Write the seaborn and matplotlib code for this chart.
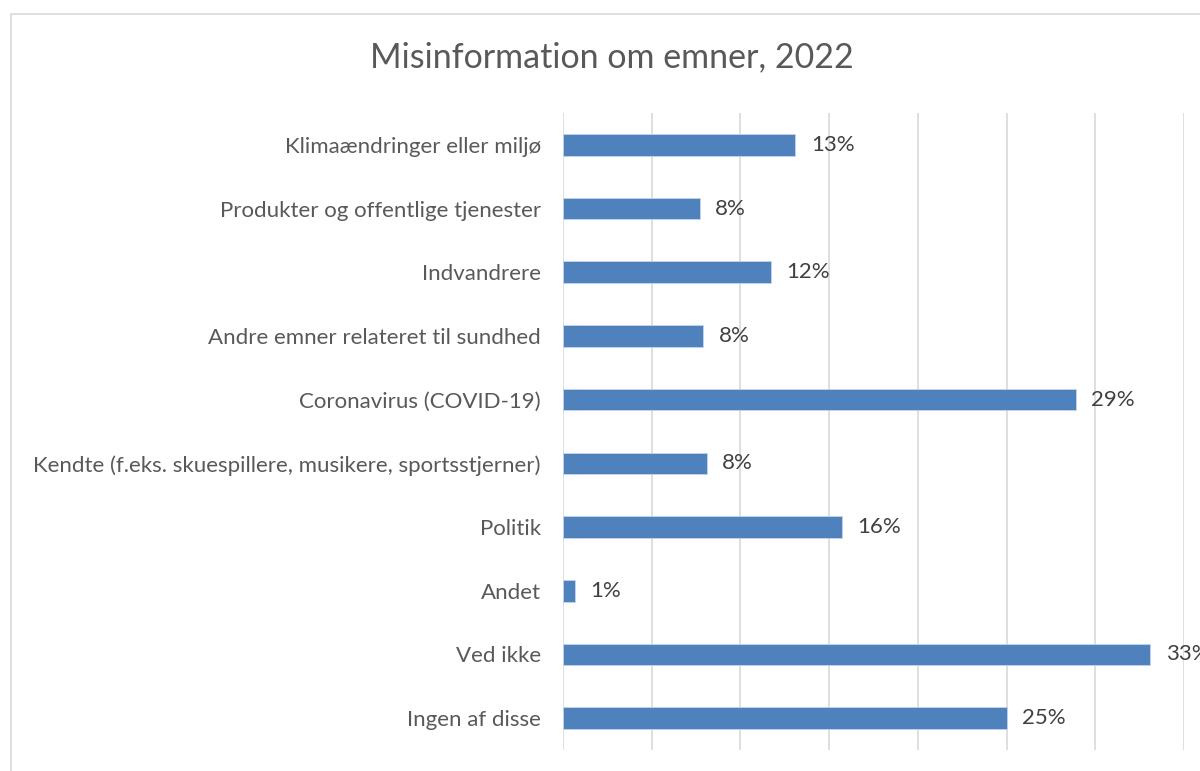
import numpy as np
import pandas as pd
import seaborn as sns
import matplotlib.pyplot as plt
from matplotlib.patches import Rectangle

categories = ['Klimaændringer eller miljø', 'Produkter og offentlige tjenester', 'Indvandrere',
              'Andre emner relateret til sundhed', 'Coronavirus (COVID-19)',
              'Kendte (f.eks. skuespillere, musikere, sportsstjerner)', 'Politik', 'Andet',
              'Ved ikke', 'Ingen af disse']
# bar lengths (labels are the rounded figures)
values = [13.1, 7.7, 11.7, 7.9, 28.9, 8.1, 15.7, 0.7, 33.1, 25.0]
bar_labels = ['13%', '8%', '12%', '8%', '29%', '8%', '16%', '1%', '33%', '25%']

sns.set_theme(style='white')
plt.rcParams['font.family'] = ['Lato', 'DejaVu Sans']

df = pd.DataFrame({'emne': categories, 'andel': values})

fig = plt.figure(figsize=(12, 7.71), dpi=100)
ax = fig.add_axes([563/1200, 1 - 750/771, (1184 - 563)/1200, (750 - 113)/771])

sns.barplot(data=df, x='andel', y='emne', orient='h', color='#4F81BD', saturation=1,
            width=0.34, ax=ax, edgecolor='#C6D4E8', linewidth=0.6, zorder=3)

ax.set_xlim(0, 35)
ax.set_ylim(len(categories) - 0.5, -0.5)
ax.set_xticks(np.arange(0, 36, 5))
ax.set_xticklabels([])
ax.xaxis.grid(True, color='#D9D9D9', linewidth=1.2)
ax.set_axisbelow(True)
for s in ax.spines.values():
    s.set_visible(False)
ax.tick_params(axis='both', length=0, pad=16)
ax.tick_params(axis='y', labelsize=16, labelcolor='#595959')
ax.set_xlabel('')
ax.set_ylabel('')

ax.bar_label(ax.containers[0], labels=bar_labels, padding=11, fontsize=16,
             color='#404040', clip_on=False)

fig.text(612/1200, 1 - 57/771, 'Misinformation om emner, 2022', ha='center', va='center',
         fontsize=24.5, color='#595959')

fig.patches.append(Rectangle((11/1200, -0.05), 1.2, 1 - 14/771 + 0.05, transform=fig.transFigure,
                             fill=False, edgecolor='#D9D9D9', linewidth=1.2))

fig.savefig('out.png', dpi=100, facecolor='white')
